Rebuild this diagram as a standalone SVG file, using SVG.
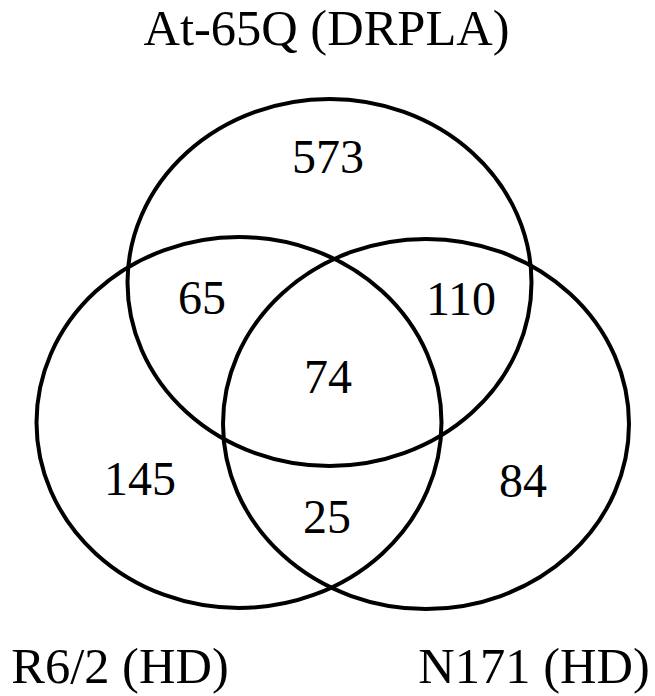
<svg xmlns="http://www.w3.org/2000/svg" width="655" height="696" viewBox="0 0 655 696">
<style>
.c{fill:none;stroke:#000;stroke-width:4}
.n{font-family:"Liberation Serif","Times New Roman",serif;font-size:48px;fill:#000;text-anchor:middle}
.l{font-family:"Liberation Serif","Times New Roman",serif;font-size:50.5px;fill:#000;text-anchor:middle}
</style>
<rect width="655" height="696" fill="#fff"/>
<g id="connectors"></g>
<g id="set-top">
<ellipse class="c" cx="329.5" cy="282.5" rx="202" ry="183.5"/>
<text class="l" x="326.5" y="45">At-65Q (DRPLA)</text>
</g>
<g id="set-left">
<ellipse class="c" cx="239" cy="422.5" rx="202.5" ry="185.5"/>
<text class="l" x="120" y="683">R6/2 (HD)</text>
</g>
<g id="set-right">
<ellipse class="c" cx="426" cy="424" rx="203" ry="185"/>
<text class="l" x="534" y="683">N171 (HD)</text>
</g>
<g id="counts">
<text class="n" x="328" y="173">573</text>
<text class="n" x="202" y="314">65</text>
<text class="n" x="461" y="315">110</text>
<text class="n" x="328" y="393">74</text>
<text class="n" x="140" y="495">145</text>
<text class="n" x="327" y="533">25</text>
<text class="n" x="523" y="497">84</text>
</g>
</svg>
